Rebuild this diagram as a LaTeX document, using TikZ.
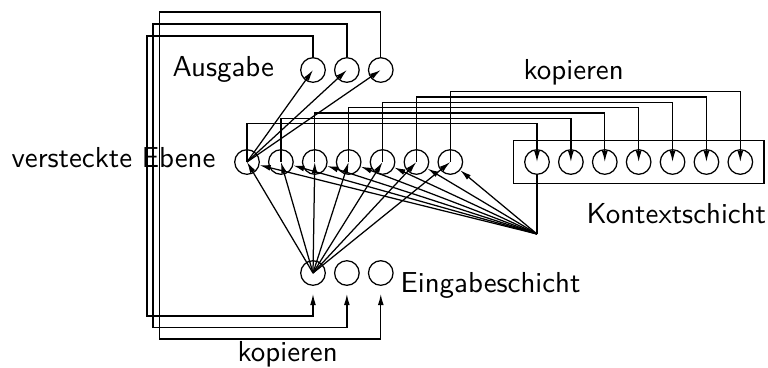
\documentclass[tikz,border=0pt]{standalone}
\usepackage{tikz}
\usetikzlibrary{arrows.meta,positioning,fit}

\begin{document}
\begin{tikzpicture}[
    x=0.36pt, y=-0.36pt,
    font=\sffamily\fontsize{10.4}{12.5}\selectfont,
    line width=0.45pt,
    node distance=2.9pt,
    unit/.style={circle, draw, minimum size=8.85pt, inner sep=0pt},
    lbl/.style={inner sep=0pt, anchor=base west},
    arrow/.style={-{Latex[length=4pt,width=2.1pt]}}
]
\useasboundingbox (0,0) rectangle (768,367);

% output layer
\node[unit] (o1) at (313,70) {};
\node[unit, right=of o1] (o2) {};
\node[unit, right=of o2] (o3) {};
\node[lbl] (outlbl) at (172,76) {Ausgabe};

% hidden layer
\node[unit] (h1) at (247,162) {};
\node[unit, right=of h1] (h2) {};
\node[unit, right=of h2] (h3) {};
\node[unit, right=of h3] (h4) {};
\node[unit, right=of h4] (h5) {};
\node[unit, right=of h5] (h6) {};
\node[unit, right=of h6] (h7) {};
\node[lbl] (hidlbl) at (11,167) {versteckte Ebene};

% context layer
\node[unit] (c1) at (537,162) {};
\node[unit, right=of c1] (c2) {};
\node[unit, right=of c2] (c3) {};
\node[unit, right=of c3] (c4) {};
\node[unit, right=of c4] (c5) {};
\node[unit, right=of c5] (c6) {};
\node[unit, right=of c6] (c7) {};
\node[draw, fit=(c1)(c7), inner xsep=3.9pt, inner ysep=3.1pt] (ctx) {};
\node[lbl] (ctxlbl) at (586,223) {Kontextschicht};
\node[lbl] (cpytop) at (523,79) {kopieren};

% input layer
\node[unit] (i1) at (313,273) {};
\node[unit, right=of i1] (i2) {};
\node[unit, right=of i2] (i3) {};
\node[lbl] (inlbl) at (400,292) {Eingabeschicht};
\node[lbl] (cpybot) at (237,361) {kopieren};

\coordinate (fan) at (537,234);

% hidden -> context copies
\foreach \k/\y in {1/123.5,2/118.2,3/112.9,4/107.6,5/102.3,6/97,7/91.7}
  \draw[arrow] (h\k.center) -- (h\k.center |- 0,\y) -| (c\k.center);

% input -> hidden
\foreach \k in {1,...,7}
  \draw[arrow] (i1.center) -- (h\k.center);

% context -> hidden
\draw (c1) -- (fan);
\foreach \k in {1,...,7}
  \draw[arrow] (fan) -- (h\k);

% hidden -> output
\foreach \k in {1,2,3}
  \draw[arrow] (h1.center) -- (o\k.center);

% output copied back to input
\foreach \k/\ty/\lx/\by in {1/36/147/316, 2/24/153/327.5, 3/12/159.5/339}
  \draw[arrow, shorten >=2.9pt] (o\k.north) |- (\lx,\ty) -- (\lx,\by) -| (i\k.south);
\end{tikzpicture}
\end{document}
